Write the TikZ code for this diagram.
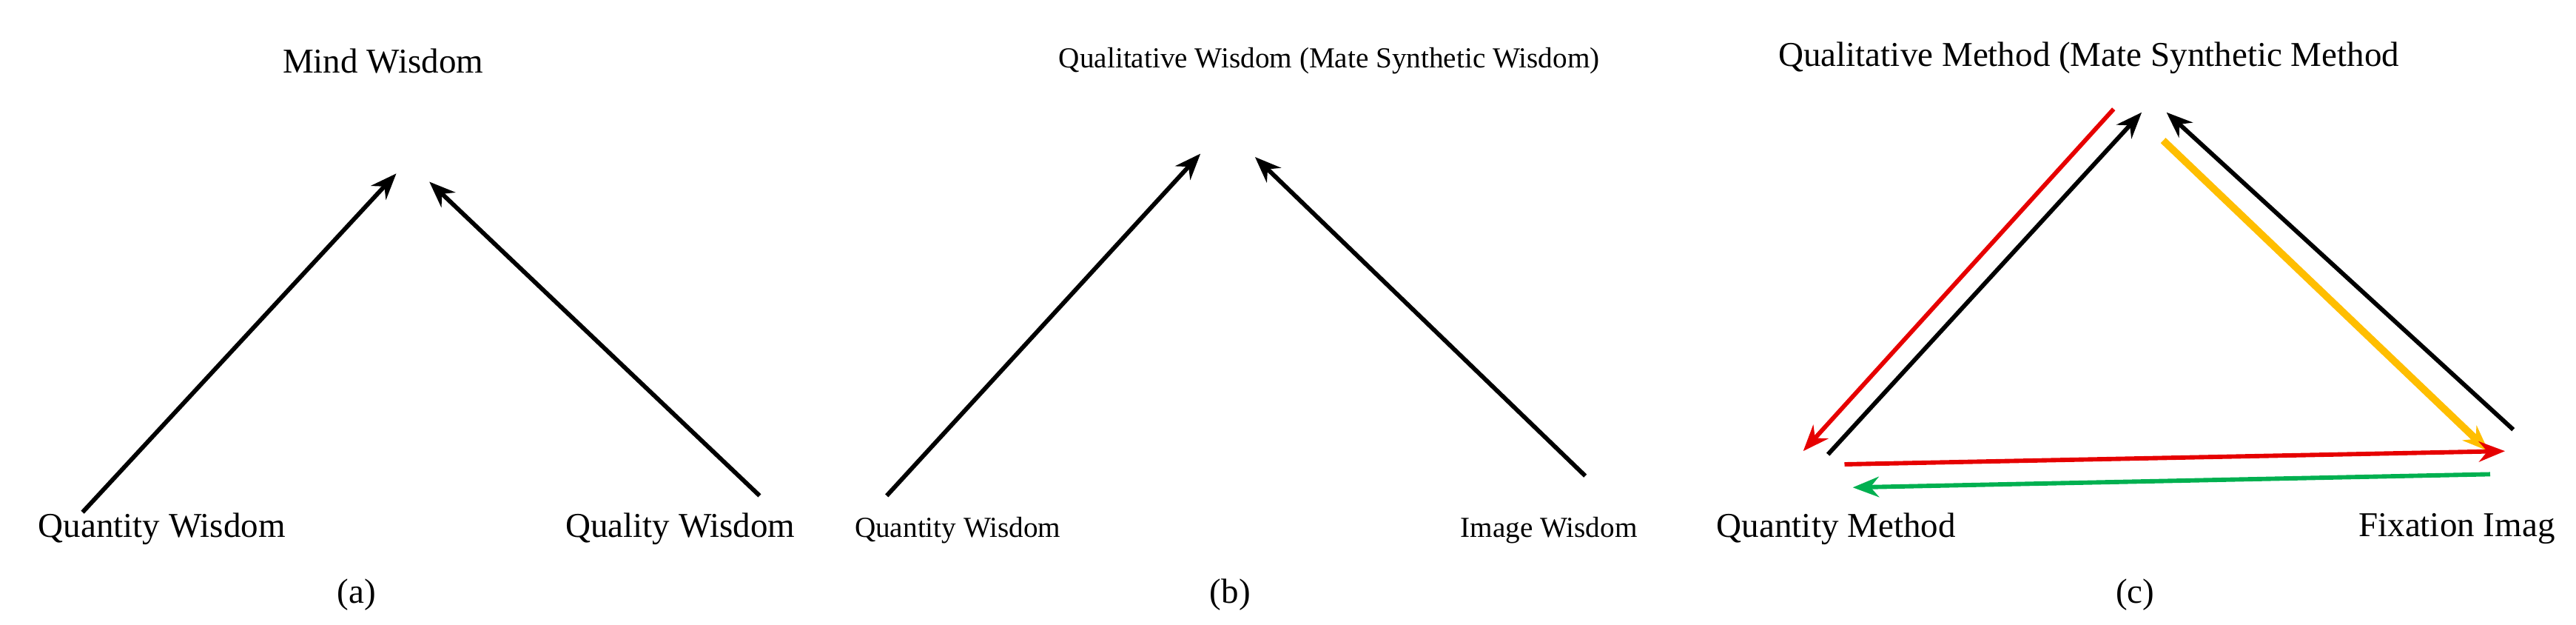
\documentclass[tikz,border=0pt]{standalone}
\usepackage{fontspec}
\setmainfont{Liberation Serif}
\usetikzlibrary{arrows.meta}
\definecolor{myred}{RGB}{230,0,0}
\definecolor{myorange}{RGB}{255,190,0}
\definecolor{mygreen}{RGB}{0,176,80}
\begin{document}
\begin{tikzpicture}[x=0.02cm, y=-0.02cm, >={Stealth[length=9pt,width=7pt]}]
    \tikzstyle{lbl} = [font=\fontsize{12}{14}\selectfont, inner sep=0pt]
    \tikzstyle{small} = [font=\fontsize{10}{12}\selectfont, inner sep=0pt]
    \tikzstyle{arr} = [->, line width=1.5pt]
    \useasboundingbox (0,0) rectangle (1560,378);
    % (a)
    \node [lbl] at (232,37) (mind) {Mind Wisdom};
    \node [lbl] at (98,320) (qtya) {Quantity Wisdom};
    \node [lbl] at (412,320) (qlya) {Quality Wisdom};
    \node [lbl] at (216,360) (capa) {(a)};
    \coordinate (a1) at (50,310);
    \coordinate (a2) at (240,105);
    \coordinate (a3) at (460,300);
    \coordinate (a4) at (260,110);
    \draw[arr] (a1) -- (a2);
    \draw[arr] (a3) -- (a4);
    % (b)
    \node [small] at (805,37) (qual) {Qualitative Wisdom (Mate Synthetic Wisdom)};
    \node [small] at (580,321) (qtyb) {Quantity Wisdom};
    \node [small] at (938,321) (img) {Image Wisdom};
    \node [lbl] at (745,360) (capb) {(b)};
    \coordinate (b1) at (537,300);
    \coordinate (b2) at (727,93);
    \coordinate (b3) at (960,288);
    \coordinate (b4) at (760,95);
    \draw[arr] (b1) -- (b2);
    \draw[arr] (b3) -- (b4);
    % (c)
    \node [lbl] at (1265,35) (qualm) {Qualitative Method (Mate Synthetic Method};
    \node [lbl] at (1112,320) (qtym) {Quantity Method};
    \node [lbl, anchor=west] at (1428,320) (fix) {Fixation Imag};
    \node [lbl] at (1293,360) (capc) {(c)};
    \coordinate (c1) at (1107,275);
    \coordinate (c2) at (1297,68);
    \coordinate (c3) at (1522,260);
    \coordinate (c4) at (1312,68);
    \coordinate (c5) at (1280,66);
    \coordinate (c6) at (1092,273);
    \coordinate (c7) at (1310,85);
    \coordinate (c8) at (1507,273);
    \coordinate (c9) at (1117,281);
    \coordinate (c10) at (1517,273);
    \coordinate (c11) at (1508,287);
    \coordinate (c12) at (1122,295);
    \draw[arr] (c1) -- (c2);
    \draw[arr] (c3) -- (c4);
    \draw[arr, myred] (c5) -- (c6);
    \draw[arr, myorange, line width=2.5pt] (c7) -- (c8);
    \draw[arr, myred] (c9) -- (c10);
    \draw[arr, mygreen] (c11) -- (c12);
\end{tikzpicture}
\end{document}
